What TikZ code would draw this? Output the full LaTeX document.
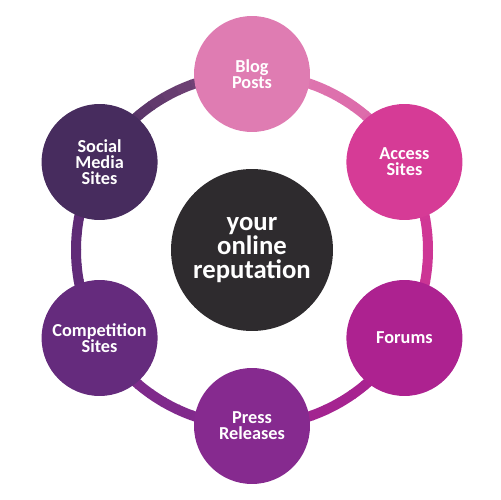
\documentclass[tikz,border=0pt]{standalone}
\usepackage{fontspec}
\setmainfont{Carlito}
\usetikzlibrary{positioning, backgrounds, calc}
\definecolor{csocial}{HTML}{472C5E}
\definecolor{cblog}{HTML}{DF7CB2}
\definecolor{caccess}{HTML}{D63B96}
\definecolor{cforums}{HTML}{AD2290}
\definecolor{cpress}{HTML}{862A8F}
\definecolor{ccomp}{HTML}{652B7D}
\definecolor{ccenter}{HTML}{2E2B2E}

\begin{document}
\begin{tikzpicture}[x=0.02cm, y=0.02cm,
  spot/.style={circle, minimum size=2.32cm, inner sep=0pt, text=white, align=center,
    font=\bfseries\fontsize{10.4}{9.2}\selectfont},
  hub/.style={circle, minimum size=3.24cm, inner sep=0pt, text=white, align=center,
    fill=ccenter, font=\bfseries\fontsize{15.2}{13.6}\selectfont},
  ring/.style={line width=0.2cm}]

\useasboundingbox (-252,-250) rectangle (248,250);

\node[hub] (rep) at (0,0) {your\\online\\reputation};

\node[spot, fill=cblog] (blog) at (90:176) {Blog\\Posts};
\node[spot, fill=caccess] (access) at (30:176) {Access\\Sites};
\node[spot, fill=cforums] (forums) at (-30:176) {Forums};
\node[spot, fill=cpress] (press) at (-90:176) {Press\\Releases};
\node[spot, fill=ccomp] (comp) at (-150:176) {Competition\\Sites};
\node[spot, fill=csocial] (social) at (150:176) {Social\\Media\\Sites};

% ring between the spots, slight colour run along each piece
\begin{scope}[on background layer]
\foreach \a/\ca/\cb in {90/cblog/caccess, 30/caccess/cforums, -30/cforums/cpress,
    -90/cpress/ccomp, -150/ccomp/csocial, 150/csocial/cblog} {
  \foreach \k in {0,...,11} {
    \pgfmathsetmacro\p{100-\k*3.5}
    \draw[ring, color=\ca!\p!\cb] ($(rep)+(\a-\k*5:176)$) arc[start angle=\a-\k*5, delta angle=-5.3, radius=176];
  }
}
\end{scope}

\end{tikzpicture}
\end{document}
